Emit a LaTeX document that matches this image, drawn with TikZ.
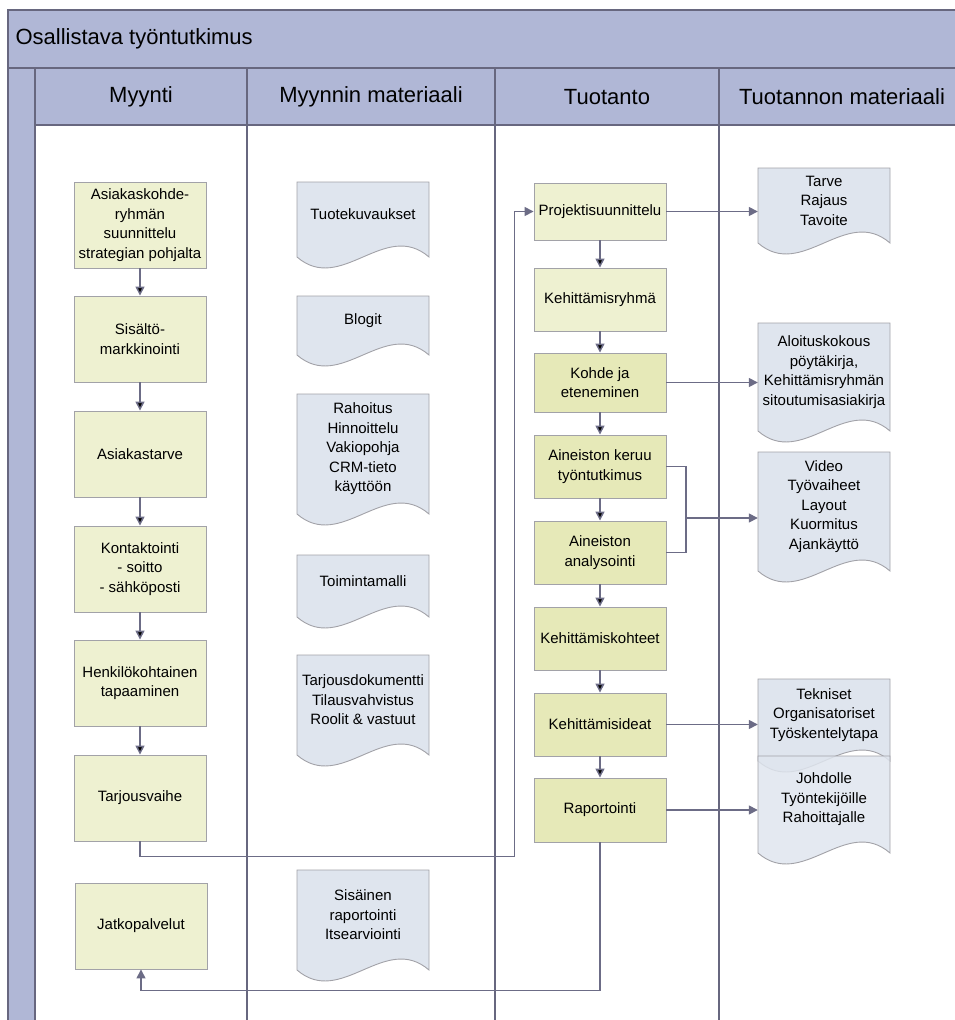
\documentclass[tikz,border=0pt]{standalone}
\usepackage{fontspec}
\setmainfont{Liberation Sans}
\usetikzlibrary{arrows.meta}

\definecolor{hdrblue}{HTML}{B0B7D6}
\definecolor{lanegray}{HTML}{67677F}
\definecolor{flowgray}{HTML}{6C6C86}
\definecolor{edgegray}{HTML}{A2A2A8}
\definecolor{stepfill}{HTML}{EEF1D1}
\definecolor{workfill}{HTML}{E6E9B8}
\definecolor{docfill}{HTML}{DFE5EE}

% document shape: name, x centre, top, end of side, text
\newcommand{\matdoc}[5]{%
  \filldraw[docshape] (#2-66,#3) -- (#2+66,#3) -- (#2+66,#4)
    .. controls (#2+22,#4-38) and (#2-22,#4+38) .. (#2-66,#4) -- cycle;
  \node[doctext, minimum height={(#4-#3)*1pt}] (#1) at (#2,{(#3+#4)/2}) {#5};
}

\begin{document}
\begin{tikzpicture}[x=1pt, y=-1pt,
  lane/.style={draw=lanegray, line width=1.4pt},
  stepbox/.style={rectangle, draw=edgegray, fill=stepfill, line width=0.9pt,
    minimum width=132pt, minimum height=86pt, align=center, inner sep=1pt,
    font=\fontsize{15}{19.5}\selectfont},
  workbox/.style={stepbox, fill=workfill},
  docshape/.style={draw=edgegray, fill=docfill, line width=0.9pt},
  doctext/.style={minimum width=132pt, align=center, inner sep=1pt, yshift=5pt,
    font=\fontsize{15}{19.5}\selectfont},
  hdr/.style={font=\fontsize{22}{26}\selectfont},
  flow/.style={draw=flowgray, line width=1.5pt, -{Triangle[length=9pt,width=9pt]}}]
	\useasboundingbox (0,0) rectangle (955,1020);
	\clip (0,0) rectangle (955,1020);

	\fill[hdrblue] (8,10) rectangle (975,125);
	\fill[hdrblue] (8,68) rectangle (35,1030);
	\draw[lane] (8,1030) -- (8,10) -- (975,10);
	\draw[lane] (8,68) -- (975,68);
	\draw[lane] (35,125) -- (975,125);
	\foreach \x in {35,247,495,719}
		\draw[lane] (\x,68) -- (\x,1030);

	\node[hdr, anchor=west] (title) at (12,39) {Osallistava työntutkimus};
	\node[hdr] (hmyynti) at (141,97) {Myynti};
	\node[hdr] (hmyymat) at (371,97) {Myynnin materiaali};
	\node[hdr] (htuot) at (607,97) {Tuotanto};
	\node[hdr] (htuomat) at (842,97) {Tuotannon materiaali};

	\node[stepbox] (m1) at (140,225) {Asiakaskohde-\\ryhmän\\suunnittelu\\strategian pohjalta};
	\node[stepbox] (m2) at (140,339) {Sisältö-\\markkinointi};
	\node[stepbox] (m3) at (140,454) {Asiakastarve};
	\node[stepbox] (m4) at (140,569) {Kontaktointi\\- soitto\\- sähköposti};
	\node[stepbox] (m5) at (140,683) {Henkilökohtainen\\tapaaminen};
	\node[stepbox] (m6) at (140,798) {Tarjousvaihe};
	\node[stepbox] (m7) at (141,926) {Jatkopalvelut};

	\matdoc{d1}{363}{182}{257}{Tuotekuvaukset}
	\matdoc{d2}{363}{296}{355}{Blogit}
	\matdoc{d3}{363}{394}{514}{Rahoitus\\Hinnoittelu\\Vakiopohja\\CRM-tieto\\käyttöön}
	\matdoc{d4}{363}{555}{617}{Toimintamalli}
	\matdoc{d5}{363}{655}{755}{Tarjousdokumentti\\Tilausvahvistus\\Roolit \& vastuut}
	\matdoc{d6}{363}{870}{970}{Sisäinen\\raportointi\\Itsearviointi}

	\node[stepbox, minimum height=57pt] (p1) at (600,211.5) {Projektisuunnittelu};
	\node[stepbox, minimum height=63pt] (p2) at (600,299.5) {Kehittämisryhmä};
	\node[workbox, minimum height=59pt] (p3) at (600,382.5) {Kohde ja\\eteneminen};
	\node[workbox, minimum height=63pt] (p4) at (600,466.5) {Aineiston keruu\\työntutkimus};
	\node[workbox, minimum height=63pt] (p5) at (600,552.5) {Aineiston\\analysointi};
	\node[workbox, minimum height=63pt] (p6) at (600,638.5) {Kehittämiskohteet};
	\node[workbox, minimum height=63pt] (p7) at (600,724.5) {Kehittämisideat};
	\node[workbox, minimum height=64pt] (p8) at (600,810) {Raportointi};

	\matdoc{t1}{824}{168}{243}{Tarve\\Rajaus\\Tavoite}
	\matdoc{t2}{824}{323}{431}{Aloituskokous\\pöytäkirja,\\Kehittämisryhmän\\sitoutumisasiakirja}
	\matdoc{t3}{824}{452}{571}{Video\\Työvaiheet\\Layout\\Kuormitus\\Ajankäyttö}
	\matdoc{t4}{824}{679}{761}{Tekniset\\Organisatoriset\\Työskentelytapa}
	\begin{scope}[docshape/.append style={fill opacity=0.85}]
	\matdoc{t5}{824}{756}{853}{Johdolle\\Työntekijöille\\Rahoittajalle}
	\end{scope}

	\draw[flow] (m1) edge (m2) (m2) edge (m3) (m3) edge (m4)
		(m4) edge (m5) (m5) edge (m6);
	\draw[flow] (p1) edge (p2) (p2) edge (p3) (p3) edge (p4)
		(p4) edge (p5) (p5) edge (p6) (p6) edge (p7) (p7) edge (p8);

	\draw[flow] (m6.south) -- ++(0,15) -| ([xshift=-19pt]p1.west) -- (p1.west);
	\draw[flow] (p8.south) -- ++(0,148) -| (m7.south);

	\draw[flow] (p1.east) -- (p1.east -| t1.west);
	\draw[flow] (p3.east) -- (p3.east -| t2.west);
	\coordinate (fork) at (686,518);
	\draw[draw=flowgray, line width=1.5pt] (p4.east) -| (fork) |- (p5.east);
	\draw[flow] (fork) -- (fork -| t3.west);
	\draw[flow] (p7.east) -- (p7.east -| t4.west);
	\draw[flow] (p8.east) -- (p8.east -| t5.west);
\end{tikzpicture}
\end{document}
